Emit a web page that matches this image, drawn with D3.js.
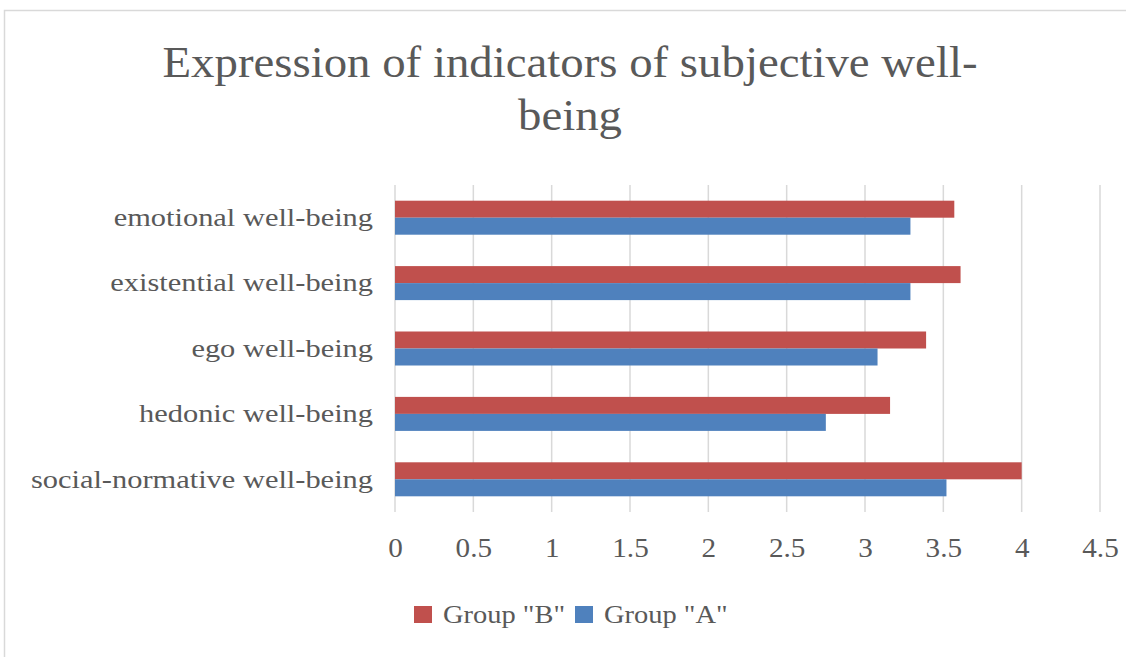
<!DOCTYPE html>
<html><head><meta charset="utf-8">
<script src="https://cdn.jsdelivr.net/npm/d3@7"></script>
<style>html,body{margin:0;padding:0;background:#fff;overflow:hidden}</style>
</head><body>
<svg id="c" width="1126" height="657"></svg>
<script>
const categories = ["emotional well-being","existential well-being","ego well-being","hedonic well-being","social-normative well-being"];
const groupB = [3.57, 3.61, 3.39, 3.16, 4.00];
const groupA = [3.29, 3.29, 3.08, 2.75, 3.52];
const seriesNames = ['Group "B"', 'Group "A"'];
const xTicks = [0,0.5,1,1.5,2,2.5,3,3.5,4,4.5];
const titleLines = ["Expression of indicators of subjective well-", "being"];

const colors = {B:"#C0504D", A:"#4F81BD"};
const txt = "#595959";
const font = "'Liberation Serif', serif";
const svg = d3.select("#c");

// chart border
svg.append("rect").attr("x",4.5).attr("y",10.5).attr("width",1130).attr("height",660)
  .attr("fill","none").attr("stroke","#D9D9D9").attr("stroke-width",1.5);

function stretch(sel, f){
  sel.each(function(){ const l=this.getComputedTextLength(); d3.select(this).attr("textLength", l*f).attr("lengthAdjust","spacingAndGlyphs"); });
}

// title
const t = svg.selectAll("text.title").data(titleLines).join("text").attr("class","title")
  .attr("x",570).attr("y",(d,i)=>77+i*53).attr("text-anchor","middle")
  .attr("font-family",font).attr("font-size",44).attr("fill",txt).text(d=>d);
const n0 = t.nodes()[0].getComputedTextLength();
stretch(t, 815/n0);

const x = d3.scaleLinear().domain([0,4.5]).range([395,1100]);
const y = d3.scaleBand().domain(categories).range([185,512]).paddingInner(0.48).paddingOuter(0.24);
const sub = d3.scaleBand().domain(["B","A"]).range([0,y.bandwidth()]);

// gridlines
svg.append("g").selectAll("line").data(xTicks).join("line")
  .attr("x1",d=>x(d)).attr("x2",d=>x(d)).attr("y1",185).attr("y2",512)
  .attr("stroke","#D9D9D9").attr("stroke-width",1.5);

// bars
const g = svg.append("g");
g.selectAll("rect.b").data(categories).join("rect").attr("class","b")
  .attr("x",x(0)).attr("y",d=>y(d)+sub("B")).attr("height",sub.bandwidth())
  .attr("width",(d,i)=>x(groupB[i])-x(0)).attr("fill",colors.B);
g.selectAll("rect.a").data(categories).join("rect").attr("class","a")
  .attr("x",x(0)).attr("y",d=>y(d)+sub("A")).attr("height",sub.bandwidth())
  .attr("width",(d,i)=>x(groupA[i])-x(0)).attr("fill",colors.A);

// axes
const xa = svg.append("g").attr("transform","translate(0,512)")
  .call(d3.axisBottom(x).tickValues(xTicks).tickSize(0).tickPadding(26).tickFormat(d3.format("")));
xa.select(".domain").remove();
xa.selectAll("text").attr("font-family",font).attr("font-size",27).attr("fill",txt);
stretch(xa.selectAll("text"),1.08);

const ya = svg.append("g").attr("transform","translate(395,0)")
  .call(d3.axisLeft(y).tickSize(0).tickPadding(22));
ya.select(".domain").remove();
ya.selectAll("text").attr("font-family",font).attr("font-size",26).attr("fill",txt);
stretch(ya.selectAll("text"),1.17);

// legend
const leg = [{k:"B",name:seriesNames[0],x:414},{k:"A",name:seriesNames[1],x:575}];
const lg = svg.append("g");
lg.selectAll("rect").data(leg).join("rect").attr("x",d=>d.x).attr("y",606).attr("width",18).attr("height",17)
  .attr("fill",d=>colors[d.k]);
const lt = lg.selectAll("text").data(leg).join("text").attr("x",d=>d.x+29).attr("y",623)
  .attr("font-family",font).attr("font-size",26).attr("fill",txt).text(d=>d.name);
const ln = lt.nodes()[0].getComputedTextLength();
stretch(lt, 122/ln);
</script>
</body></html>
